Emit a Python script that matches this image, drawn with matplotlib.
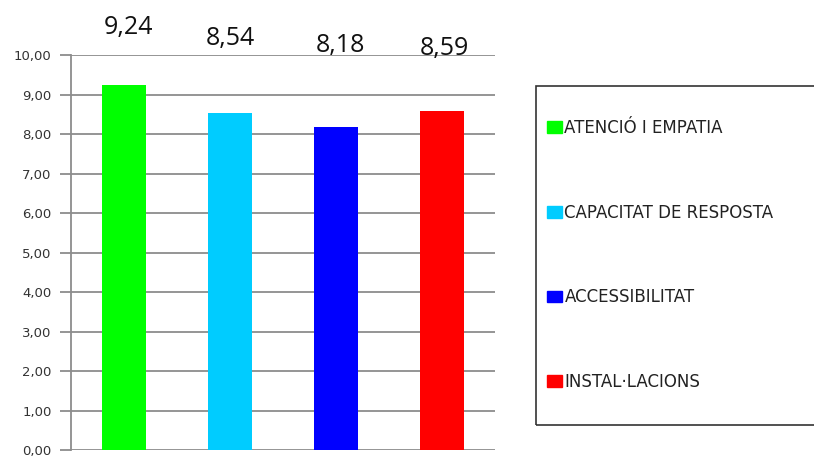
import matplotlib.pyplot as plt
from matplotlib.patches import Rectangle

categories = ["ATENCIÓ I EMPATIA", "CAPACITAT DE RESPOSTA", "ACCESSIBILITAT", "INSTAL·LACIONS"]
values = [9.24, 8.54, 8.18, 8.59]
colors = ["#00ff00", "#00ccff", "#0000ff", "#ff0000"]
value_labels = ["9,24", "8,54", "8,18", "8,59"]
yticks = [0, 1, 2, 3, 4, 5, 6, 7, 8, 9, 10]

fig = plt.figure(figsize=(8.14, 4.57), dpi=100)
ax = fig.add_axes([0.0872, 0.0153, 0.521, 0.8643])

x = range(len(values))
bars = ax.bar(x, values, width=0.42, color=colors, zorder=3)

ax.set_ylim(0, 10)
ax.set_xlim(-0.5, 3.5)
ax.set_yticks(yticks)
ax.set_yticklabels(["%d,00" % t for t in yticks], fontsize=9.5, color="#333333")
ax.set_xticks([])
ax.yaxis.grid(True, color="#8c8c8c", linewidth=1.3, zorder=0)
ax.tick_params(axis="y", length=8, width=1.3, color="#8c8c8c", pad=6)
for s in ["top", "right", "bottom"]:
    ax.spines[s].set_visible(False)
ax.spines["left"].set_color("#8c8c8c")
ax.spines["left"].set_linewidth(1.3)

# value labels sit above the plot, at slightly different heights like the original
label_offsets = [(3, 20), (0, 12), (3.5, 7), (1.5, 4.5)]
for xi, lab, off in zip(x, value_labels, label_offsets):
    ax.annotate(lab, xy=(xi, 10), xytext=off, textcoords="offset points",
                ha="center", va="center", fontsize=18, family="Open Sans", color="#111111",
                annotation_clip=False, zorder=5)

# legend box
fig.patches.append(Rectangle((536 / 814, 1 - 425 / 457), 300 / 814, 339 / 457,
                             transform=fig.transFigure, fill=False, edgecolor="#333333",
                             linewidth=1.2))
handles = [Rectangle((0, 0), 1, 1, color=c) for c in colors]
leg = fig.legend(handles, categories, loc="upper left",
                 bbox_to_anchor=(547 / 814, 1 - 119 / 457), frameon=False,
                 fontsize=12, labelspacing=4.0, handlelength=0.9, handleheight=0.7,
                 handletextpad=0.15, borderpad=0, borderaxespad=0)
for t in leg.get_texts():
    t.set_color("#222222")

plt.savefig("out.png", dpi=100)
